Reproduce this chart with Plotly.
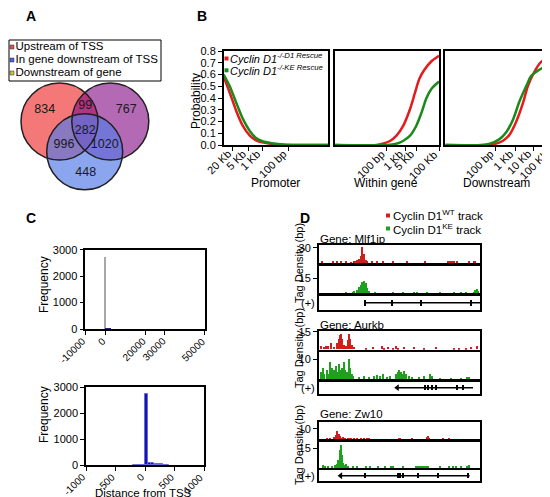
import plotly.graph_objects as go

W, H = 550, 497
FONT = "Liberation Sans, Arial, Helvetica, sans-serif"


def fx(p):
    return p / W


def fy(p):
    return 1 - p / H


def dom_x(a, b):
    return [fx(a), fx(b)]


def dom_y(top, bottom):
    return [fy(bottom), fy(top)]


# ---------------- Panel A data ----------------
venn_sets = ["Upstream of TSS", "In gene downstream of TSS", "Downstream of gene"]
venn_set_colors = ["#e05050", "#5060e0", "#c8c040"]
venn_counts = [834, 99, 767, 282, 996, 1020, 448]

# ---------------- Panel B data ----------------
b_series = ["Cyclin D1<sup>-/-D1 Rescue</sup>", "Cyclin D1<sup>-/-KE Rescue</sup>"]
b_colors = ["#e41a1c", "#1a8a1a"]
b_panels = ["Promoter", "Within gene", "Downstream"]

prom_red_x = [0, 5.8, 12, 18.5, 25, 31, 38, 50, 60, 75, 100]
prom_red_y = [0.58, 0.445, 0.29, 0.16, 0.08, 0.04, 0.02, 0.005, 0.001, 0, 0]
prom_grn_x = [0, 5.8, 12, 18.5, 25, 31, 38, 50, 60, 75, 100]
prom_grn_y = [0.60, 0.50, 0.36, 0.22, 0.12, 0.06, 0.03, 0.01, 0.003, 0, 0]

gene_red_x = [0, 40, 46, 53, 59, 65.5, 72, 77, 81, 86, 93, 100]
gene_red_y = [0, 0, 0.011, 0.034, 0.077, 0.16, 0.30, 0.445, 0.56, 0.64, 0.715, 0.76]
gene_grn_x = [0, 50, 59, 65.5, 72, 78, 83, 88, 93, 100]
gene_grn_y = [0, 0, 0.01, 0.034, 0.077, 0.16, 0.27, 0.40, 0.48, 0.54]

down_red_x = [0, 40, 45.7, 55, 61.7, 68, 74.5, 79, 84, 90, 100]
down_red_y = [0, 0, 0.005, 0.034, 0.09, 0.2, 0.36, 0.5, 0.6, 0.69, 0.77]
down_grn_x = [0, 35, 42.5, 52, 58.5, 65, 71, 78, 82, 90, 100]
down_grn_y = [0, 0, 0.01, 0.05, 0.11, 0.22, 0.37, 0.51, 0.585, 0.64, 0.69]

prom_tick_labels = ["20 Kb", "5 Kb", "1 Kb", "100 bp"]
prom_tick_pos = [8.9, 23.3, 37, 62]
gene_tick_labels = ["100 bp", "1 Kb", "5 Kb", "100 Kb"]
gene_tick_pos = [50, 67.5, 78, 100]
down_tick_labels = ["100 bp", "1 Kb", "10 Kb", "100 Kb"]
down_tick_pos = [48, 67, 84, 100]
prob_ticks = [0.0, 0.1, 0.2, 0.3, 0.4, 0.5, 0.6, 0.7, 0.8]

# ---------------- Panel C data ----------------
c_top_ticks = [-10000, 0, 20000, 30000, 50000]
c_top_ticktext = ["-10000", "0", "20000", "30000", "50000"]
c_top_main_x = [0]
c_top_main_y = [2750]
c_top_small_x = [1500]
c_top_small_y = [50]
c_bot_ticks = [-1000, -500, 0, 500, 1000]
c_bot_ticktext = ["-1000", "-500", "0", "500", "1000"]
c_bot_x = [-175, -125, -75, -25, 25, 75, 125, 175, 225, 275, 325, 375]
c_bot_y = [5, 8, 10, 15, 2720, 90, 70, 55, 45, 35, 25, 12]
freq_ticks = [0, 1000, 2000, 3000]

# ---------------- Panel D data ----------------
d_legend = ["Cyclin D1<sup>WT</sup> track", "Cyclin D1<sup>KE</sup> track"]
d_colors = ["#d01e1e", "#1fa01f"]
genes = ["Mlf1ip", "Aurkb", "Zw10"]

mlf_red_pos = [2, 9, 11, 14, 17, 20, 22, 23, 24, 25, 26, 27, 28, 29, 30, 33, 36, 40, 46, 55,
               66, 80, 81, 82, 83, 84, 86, 93, 96, 97]
mlf_red_val = [1.5, 2, 1.5, 2, 1.5, 1, 3, 4, 5, 7, 14, 31, 18, 5, 2, 1.5, 1.5, 2, 1.5, 1.5,
               3, 2, 1.5, 2, 1.5, 1.5, 1.5, 2, 1.5, 2]
mlf_grn_pos = [17, 21, 22, 24, 25, 26, 27, 28, 29, 30, 31, 35, 46, 52, 59, 61, 67, 75, 84, 88,
               91, 96, 97, 98, 99]
mlf_grn_val = [1, 1.5, 2, 3, 6, 8, 11, 12.5, 10, 5, 2, 1, 1, 1, 1, 1, 1, 1, 1, 1,
               1.5, 1.5, 3, 4, 2.5]
aur_red_pos = [1.4, 3, 4.5, 6, 7.6, 9.7, 11.4, 12.4, 13.2, 13.8, 14.7, 15.5, 17, 18, 18.8, 19.6,
               20.7, 22, 29.3, 33.5, 39, 40.7, 42.8, 45.9, 48, 49, 53, 59.3, 65.5, 72.7, 84,
               87, 91.3, 94.4, 98]
aur_red_val = [3, 2, 3, 2.5, 5, 2, 5, 9, 12, 13, 9, 4, 3, 8, 13, 9,
               4, 2, 1.5, 2, 2.5, 1.5, 2, 1.5, 2.5, 1.5, 2, 2, 1.5, 2, 1.5,
               1.5, 1.5, 2, 3]
aur_grn_pos = [1.5, 2.5, 3.5, 5, 6, 7.2, 8, 9.5, 10.5, 11.5, 12.5, 13.5, 14.5, 15.5, 16.5, 17.5,
               18.5, 19.5, 20.5, 21.5, 25, 28, 31, 34, 36, 38, 40, 42, 44, 48, 49, 50, 51, 52,
               53, 54, 56, 58, 62, 65, 69, 70, 75, 82, 88, 92, 93]
aur_grn_val = [4, 6, 3, 5, 3, 9, 6, 5, 7, 4, 8, 5, 6, 9, 5, 4,
               10.5, 6, 3, 2, 1.5, 2, 1.5, 2, 2.5, 2, 3, 1.5, 2, 3, 4, 5, 4, 3,
               4.5, 3, 2, 1.5, 1.5, 2, 3, 2, 1, 1, 1, 1.5, 1.5]
zw_red_pos = [5, 7, 9.5, 10.5, 11.4, 12.3, 13, 14, 15, 16.5, 18, 19, 20, 22, 24, 26, 28, 30, 31,
              49.5, 50.5, 58, 67, 67.8, 68.5, 77, 81]
zw_red_val = [1, 1, 2, 4, 8, 5, 3, 1.5, 2, 1, 1, 1.5, 1, 1, 1, 1, 1, 1, 1,
              1, 1.5, 1, 2, 3, 1.5, 1.5, 1.5]
zw_grn_pos = [2.5, 4, 6, 8, 10, 11, 12, 13, 13.6, 14.3, 15, 16, 17, 18, 21, 24, 29, 32, 37, 41,
              45, 46, 52, 60, 61, 62, 63, 64, 65, 66, 67, 68, 75, 81, 83, 85, 88, 92, 93]
zw_grn_val = [2, 1, 1.5, 1, 2, 3, 6, 14, 17.7, 10, 4, 2, 3, 1.5, 1, 1.5, 1, 1.5, 1.5, 1,
              1.5, 1, 1, 1.5, 1, 1, 1, 1, 1, 1, 1, 1.5, 1, 1, 1, 1.5, 1, 1.5, 2]

# gene models: [start, end], exon centres and widths
mlf_gene_span = [28.3, 100]
mlf_exon_pos = [28.3, 45, 63, 94.4]
mlf_exon_w = [0.5, 0.6, 1.3, 1.3]
aur_gene_span = [48.5, 95.5]
aur_exon_pos = [65.9, 67.8, 70.2, 72.5, 85.5, 89.3]
aur_exon_w = [0.6, 0.6, 1.2, 1.6, 1.0, 1.5]
zw_gene_span = [13.4, 93.4]
zw_exon_pos = [28.7, 48.8, 50.5, 52.2, 61.4, 73.8, 92.4]
zw_exon_w = [0.5, 0.6, 0.8, 0.8, 1.2, 1.2, 1.2]

track_ranges = [[0, 35], [0, 27.5], [0, 15.5], [0, 14], [0, 17.3], [0, 20]]
track_ticks = [30, 15, 15, 10, 10, 15]

# ---------------- figure ----------------
fig = go.Figure()
layout = {}
ann = []


def base_axis(domain, anchor, **kw):
    d = dict(domain=domain, anchor=anchor, showline=True, linecolor="black", linewidth=1.5,
             mirror=True, showgrid=False, zeroline=False, ticks="outside", ticklen=4,
             tickwidth=1.2, tickcolor="black", automargin=False,
             tickfont=dict(size=11, color="black", family=FONT))
    d.update(kw)
    return d


def rotated_labels(xref, vals, texts, axis_px, dx, dy, size):
    # tick labels rotated by 45 degrees, their upper-right end placed just under each tick
    for v, t in zip(vals, texts):
        ann.append(dict(x=v, xref=xref, y=fy(axis_px + dy), yref="paper", text=t,
                        showarrow=False, textangle=-45, xanchor="right", yanchor="top",
                        xshift=dx, borderpad=0,
                        font=dict(size=size, color="black", family=FONT)))


# Panel B axes
b_xdoms = [(215.7, 320), (326.7, 431), (437.3, 541.7)]
b_ticks = [(prom_tick_pos, prom_tick_labels), (gene_tick_pos, gene_tick_labels),
           (down_tick_pos, down_tick_labels)]
b_curves = [((prom_red_x, prom_red_y), (prom_grn_x, prom_grn_y)),
            ((gene_red_x, gene_red_y), (gene_grn_x, gene_grn_y)),
            ((down_red_x, down_red_y), (down_grn_x, down_grn_y))]
for i in range(3):
    n = i + 1
    sfx = "" if n == 1 else str(n)
    layout["xaxis" + sfx] = base_axis(dom_x(*b_xdoms[i]), "y" + sfx, range=[0, 100],
                                      tickvals=b_ticks[i][0], showticklabels=False)
    rotated_labels("x" + sfx, b_ticks[i][0], b_ticks[i][1], 137, 2, 1.5, 11)
    if n == 1:
        layout["yaxis"] = base_axis(dom_y(43, 137), "x", range=[0, 0.8], tickvals=prob_ticks,
                                    tickformat=".1f")
    else:
        layout["yaxis" + sfx] = base_axis(dom_y(43, 137), "x" + sfx, range=[0, 0.8],
                                          showticklabels=False, ticks="")
    for (cx, cy), col in zip(b_curves[i], b_colors):
        fig.add_trace(go.Scatter(x=cx, y=cy, mode="lines", line=dict(color=col, width=2.5,
                                 shape="spline", smoothing=0.8),
                                 xaxis="x" + sfx, yaxis="y" + sfx, hoverinfo="skip"))

# Panel C axes
layout["xaxis4"] = base_axis(dom_x(77.3, 196.7), "y4", range=[-10000, 50000],
                             tickvals=c_top_ticks, showticklabels=False)
rotated_labels("x4", c_top_ticks, c_top_ticktext, 321, 4, 5, 10)
layout["yaxis4"] = base_axis(dom_y(241.7, 321), "x4", range=[0, 3000], tickvals=freq_ticks)
layout["xaxis5"] = base_axis(dom_x(78, 196), "y5", range=[-1000, 1000],
                             tickvals=c_bot_ticks, showticklabels=False)
rotated_labels("x5", c_bot_ticks, c_bot_ticktext, 457.3, 3, 5, 10)
layout["yaxis5"] = base_axis(dom_y(379, 457.3), "x5", range=[0, 3000], tickvals=freq_ticks)

fig.add_trace(go.Bar(x=c_top_main_x, y=c_top_main_y, width=400, marker=dict(color="#a8a8a8", line=dict(width=0)),
                     xaxis="x4", yaxis="y4"))
fig.add_trace(go.Bar(x=c_top_small_x, y=c_top_small_y, width=3000, marker=dict(color="#202080", line=dict(width=0)),
                     xaxis="x4", yaxis="y4"))
fig.add_trace(go.Bar(x=c_bot_x, y=c_bot_y, width=50,
                     marker=dict(color="#1414a8", line=dict(color="#6a6ae0", width=1)),
                     xaxis="x5", yaxis="y5"))

# Panel D axes
track_x = (311, 472.3)
track_rows = [(237.3, 255), (257.7, 285), (288, 301.7),
              (323.3, 341.7), (343.5, 371.7), (373.3, 386),
              (413.5, 431), (434, 460), (462.3, 473.3)]
signal = [(mlf_red_pos, mlf_red_val, 0), (mlf_grn_pos, mlf_grn_val, 1), None,
          (aur_red_pos, aur_red_val, 0), (aur_grn_pos, aur_grn_val, 1), None,
          (zw_red_pos, zw_red_val, 0), (zw_grn_pos, zw_grn_val, 1), None]
gene_models = [(mlf_gene_span, mlf_exon_pos, mlf_exon_w, "+"),
               (aur_gene_span, aur_exon_pos, aur_exon_w, "-"),
               (zw_gene_span, zw_exon_pos, zw_exon_w, "-")]
sig_i = 0
for k in range(9):
    n = 6 + k
    xa, ya = "x%d" % n, "y%d" % n
    layout["xaxis%d" % n] = base_axis(dom_x(*track_x), ya, range=[0, 100], ticks="",
                                      showticklabels=False, linewidth=2)
    if signal[k] is not None:
        pos, val, ci = signal[k]
        layout["yaxis%d" % n] = base_axis(dom_y(*track_rows[k]), xa, range=track_ranges[sig_i],
                                          tickvals=[track_ticks[sig_i]], linewidth=2)
        fig.add_trace(go.Bar(x=pos, y=val, width=0.9,
                             marker=dict(color=d_colors[ci], line=dict(width=0)),
                             xaxis=xa, yaxis=ya, hoverinfo="skip"))
        sig_i += 1
    else:
        layout["yaxis%d" % n] = base_axis(dom_y(*track_rows[k]), xa, range=[-1, 1],
                                          ticks="", showticklabels=False, linewidth=2)
        span, epos, ew, strand = gene_models[k // 3]
        fig.add_trace(go.Scatter(x=span, y=[0, 0], mode="lines",
                                 line=dict(color="black", width=1.5),
                                 xaxis=xa, yaxis=ya, hoverinfo="skip"))
        fig.add_trace(go.Bar(x=epos, y=[0.8] * len(epos), base=-0.4, width=ew,
                             marker=dict(color="black", line=dict(width=0)),
                             xaxis=xa, yaxis=ya, hoverinfo="skip"))
        if strand == "-":
            fig.add_trace(go.Scatter(x=[span[0]], y=[0], mode="markers",
                                     marker=dict(symbol="triangle-left", size=6, color="black"),
                                     xaxis=xa, yaxis=ya, hoverinfo="skip"))

# Venn (hidden axis in pixel units)
layout["xaxis15"] = dict(domain=[0, fx(170)], range=[0, 170], visible=False, anchor="y15")
layout["yaxis15"] = dict(domain=[fy(200), 1], range=[200, 0], visible=False, anchor="x15")
venn_count_x = [36.7, 77.3, 118.3, 77.3, 56, 96.7, 77.7]
venn_count_y = [101.7, 98.3, 101.7, 122.7, 136.7, 136.7, 165]
fig.add_trace(go.Scatter(x=venn_count_x, y=venn_count_y, mode="text",
                         text=[str(v) for v in venn_counts],
                         textfont=dict(size=12.5, color="#1a1a1a", family=FONT),
                         xaxis="x15", yaxis="y15", hoverinfo="skip"))
fig.add_trace(go.Scatter(x=[4, 4, 4], y=[39, 52, 65], mode="markers+text",
                         marker=dict(symbol="square", size=4, color=venn_set_colors,
                                     line=dict(color="#333", width=0.5)),
                         text=venn_sets, textposition="middle right",
                         textfont=dict(size=11.5, color="black", family=FONT),
                         xaxis="x15", yaxis="y15", hoverinfo="skip"))

shapes = []
circles = [(51.5, 113.5, 38.5, "rgb(245,120,120)"),
           (102.3, 113.5, 38.5, "rgba(134,13,134,0.62)"),
           (76.7, 143.8, 38, "rgba(85,122,232,0.68)")]
for cx, cy, r, col in circles:
    shapes.append(dict(type="circle", xref="x15", yref="y15", x0=cx - r, x1=cx + r,
                       y0=cy - r, y1=cy + r, fillcolor=col, line=dict(width=0), layer="below"))
for cx, cy, r, col in circles:
    shapes.append(dict(type="circle", xref="x15", yref="y15", x0=cx - r, x1=cx + r,
                       y0=cy - r, y1=cy + r, line=dict(color="#202020", width=1.5), layer="below"))
shapes.append(dict(type="rect", xref="x15", yref="y15", x0=1, x1=153, y0=32, y1=73,
                   line=dict(color="black", width=1), fillcolor="white", layer="below"))


# legend squares (B, D)
def px_square(cx, cy, s, col):
    return dict(type="rect", xref="paper", yref="paper", x0=fx(cx - s / 2), x1=fx(cx + s / 2),
                y0=fy(cy + s / 2), y1=fy(cy - s / 2), fillcolor=col, line=dict(width=0))


shapes.append(px_square(218.5, 50.5, 4, b_colors[0]))
shapes.append(px_square(218.5, 62.3, 4, b_colors[1]))
shapes.append(px_square(380, 207.5, 4, d_colors[0]))
shapes.append(px_square(380, 220.5, 4, d_colors[1]))


def text(x, y, s, size=12, xanchor="center", angle=0, bold=False, italic=False):
    if bold:
        s = "<b>%s</b>" % s
    if italic:
        s = "<i>%s</i>" % s
    ann.append(dict(x=fx(x), y=fy(y), xref="paper", yref="paper", text=s, showarrow=False,
                    xanchor=xanchor, yanchor="middle", textangle=angle,
                    font=dict(size=size, color="black", family=FONT)))


text(23, 8, "A", 14, bold=True)
text(194, 8, "B", 14, bold=True)
text(23, 210, "C", 14, bold=True)
text(297, 210, "D", 14, bold=True)

text(219.5, 50, b_series[0], 11, xanchor="left", italic=True)
text(219.5, 62, b_series[1], 11, xanchor="left", italic=True)
text(188, 93, "Probability", 12, angle=-90)
for cx, lab in zip([267, 378, 488.5], b_panels):
    text(cx, 175, lab, 12)

text(36, 277, "Frequency", 12, angle=-90)
text(36, 407, "Frequency", 12, angle=-90)
text(135, 484.5, "Distance from TSS", 11.5)

text(383, 207, d_legend[0], 11.5, xanchor="left")
text(383, 220.5, d_legend[1], 11.5, xanchor="left")
for gy, g in zip([231, 317, 406], genes):
    text(310, gy, "Gene: " + g, 11.5, xanchor="left")
for ty in [255, 340, 437]:
    text(291, ty, "Tag Density (bp)", 11, angle=-90)
for gy in [295, 379.7, 467.8]:
    text(300, gy, "(+)", 11)

layout.update(dict(width=W, height=H, autosize=False, margin=dict(l=0, r=0, t=0, b=0),
                   template="none", paper_bgcolor="white", plot_bgcolor="rgba(0,0,0,0)",
                   showlegend=False, barmode="overlay", bargap=0,
                   font=dict(family=FONT, color="black"),
                   shapes=shapes, annotations=ann))
fig.update_layout(**layout)
fig.write_html("out.html")
